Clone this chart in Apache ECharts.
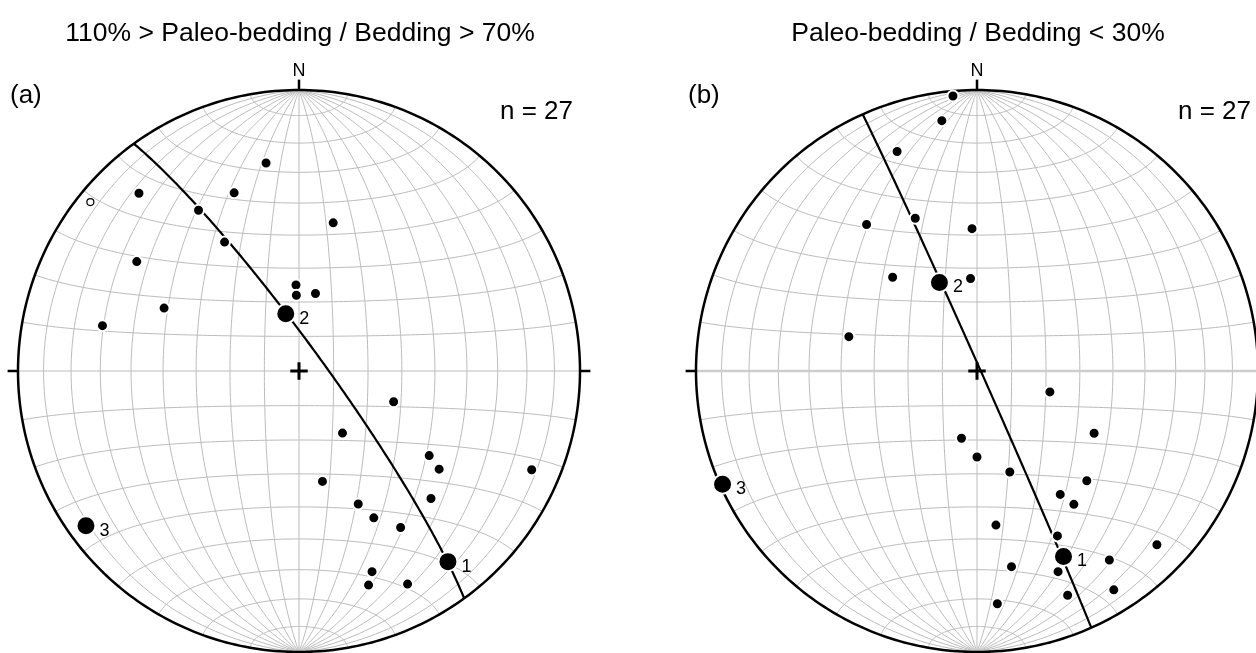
<!DOCTYPE html>
<html>
<head>
<meta charset="utf-8">
<script src="https://cdn.jsdelivr.net/npm/echarts@6/dist/echarts.min.js"></script>
<style>
  html, body { margin: 0; padding: 0; background: #fff; }
  #chart { width: 1256px; height: 653px; }
</style>
</head>
<body>
<div id="chart"></div>
<script>
// Net (a): 110% > Paleo-bedding / Bedding > 70%
// Poles as [trend, plunge] in degrees, lower hemisphere
const polesA = [
  [351, 26], [340, 33], [318, 16], [328, 33], [330, 46], [304, 31], [295, 46], [283, 29],
  [13, 45], [358, 65], [358, 68], [12, 67],
  [108, 61], [145, 68], [123, 44], [125, 39], [113, 11], [168, 57], [134, 35],
  [156, 47], [153, 41], [147, 34], [160, 25], [162, 21], [153, 16]
];
const openPolesA = [[309, 5]];
// Eigenvectors 1, 2, 3 as [trend, plunge]
const eigenA = [[142, 15], [347, 73], [234, 7]];

// Net (b): Paleo-bedding / Bedding < 30%
const polesB = [
  [355, 2], [352, 11], [340, 18], [338, 41], [323, 35], [358, 48], [318, 53], [356, 63], [285, 51],
  [106, 68], [118, 51], [193, 70], [180, 65], [162, 59], [135, 44], [146, 46], [144, 41],
  [173, 44], [154, 35], [134, 12], [145, 19], [170, 30], [158, 24], [148, 9], [158, 15], [175, 18]
];
const openPolesB = [];
const eigenB = [[155, 28], [337, 62], [246, 1]];

const eigenNames = ['1', '2', '3'];
const titles = ['110% > Paleo-bedding / Bedding > 70%', 'Paleo-bedding / Bedding < 30%'];
const panelLetters = ['(a)', '(b)'];
const countLabels = ['n = 27', 'n = 27'];

// ---- layout ----
const R = 281;                 // primitive radius, px
const EXT = 1.06;              // axis extent beyond the primitive
const centers = [[299, 371], [977, 371]];
const FONT = '"Liberation Sans", Arial, Helvetica, sans-serif';
const GRID_GREY = '#bcbcbc';

const D2R = Math.PI / 180;

// Lambert equal-area (Schmidt) projection of a unit vector (north, east, down)
function projVec(n, e, d) {
  if (d < 0) { n = -n; e = -e; d = -d; }
  const k = 1 / Math.sqrt(1 + d);
  return [e * k, n * k];
}
function projLine(trend, plunge) {
  const t = trend * D2R, p = plunge * D2R;
  return projVec(Math.cos(p) * Math.cos(t), Math.cos(p) * Math.sin(t), Math.sin(p));
}

// 10-degree Schmidt net: meridians and small circles about the N-S axis
function netCurves() {
  const curves = [];
  for (let dip = 10; dip <= 80; dip += 10) {
    for (const side of [1, -1]) {
      const pts = [];
      const cd = Math.cos(dip * D2R), sd = Math.sin(dip * D2R);
      for (let a = 0; a <= 180; a += 1.5) {
        const ca = Math.cos(a * D2R), sa = Math.sin(a * D2R);
        pts.push(projVec(ca, side * sa * cd, sa * sd));
      }
      curves.push({ coords: pts });
    }
  }
  curves.push({ coords: [[0, -1], [0, 1]] });
  for (let al = 10; al <= 170; al += 10) {
    if (al === 90) continue;
    const pts = [];
    const c = Math.cos(al * D2R), s = Math.sin(al * D2R);
    for (let f = 0; f <= 180; f += 1.5) {
      pts.push(projVec(c, s * Math.cos(f * D2R), s * Math.sin(f * D2R)));
    }
    curves.push({ coords: pts });
  }
  return curves;
}

function primitive() {
  const pts = [];
  for (let a = 0; a <= 360; a += 1) pts.push([Math.sin(a * D2R), Math.cos(a * D2R)]);
  return pts;
}

// Great circle of the plane whose pole is the given line (girdle normal to eigenvector 3)
function planeFromPole(trend, plunge) {
  const dd = (trend + 180) * D2R, dip = (90 - plunge) * D2R;
  const s = [Math.cos(dd - Math.PI / 2), Math.sin(dd - Math.PI / 2), 0];
  const v = [Math.cos(dip) * Math.cos(dd), Math.cos(dip) * Math.sin(dd), Math.sin(dip)];
  const pts = [];
  for (let a = 0; a <= 180; a += 1) {
    const ca = Math.cos(a * D2R), sa = Math.sin(a * D2R);
    pts.push(projVec(ca * s[0] + sa * v[0], ca * s[1] + sa * v[1], ca * s[2] + sa * v[2]));
  }
  return pts;
}

const TK = 0.037, CR = 0.031;
const ticks = [
  { coords: [[0, 1], [0, 1 + TK]] }, { coords: [[0, -1], [0, -1 - TK]] },
  { coords: [[1, 0], [1 + TK, 0]] }, { coords: [[-1, 0], [-1 - TK, 0]] }
];
const cross = [{ coords: [[-CR, 0], [CR, 0]] }, { coords: [[0, -CR], [0, CR]] }];

const grids = [], xAxes = [], yAxes = [], series = [], graphics = [];

const nets = [
  { poles: polesA, open: openPolesA, eigen: eigenA },
  { poles: polesB, open: openPolesB, eigen: eigenB }
];

nets.forEach((net, i) => {
  const [cx, cy] = centers[i];
  grids.push({
    left: cx - R * EXT, top: cy - R * EXT, width: 2 * R * EXT, height: 2 * R * EXT,
    containLabel: false, outerBoundsMode: 'none'
  });
  xAxes.push({ gridIndex: i, type: 'value', min: -EXT, max: EXT, show: false });
  yAxes.push({ gridIndex: i, type: 'value', min: -EXT, max: EXT, show: false });
  const ax = { xAxisIndex: i, yAxisIndex: i, coordinateSystem: 'cartesian2d', silent: true };

  series.push(Object.assign({
    type: 'lines', polyline: true, z: 1, data: netCurves(),
    lineStyle: { color: GRID_GREY, width: 1, opacity: 1 }
  }, ax));
  series.push(Object.assign({
    type: 'lines', polyline: true, z: 1, data: [{ coords: [[-1, 0], [1, 0]] }],
    lineStyle: i === 1 ? { color: '#cdcdcd', width: 2.5, opacity: 1 } : { color: GRID_GREY, width: 1, opacity: 1 }
  }, ax));
  series.push(Object.assign({
    type: 'lines', polyline: true, z: 2, data: [{ coords: primitive() }].concat(ticks),
    lineStyle: { color: '#000', width: 2.5, opacity: 1 }
  }, ax));
  series.push(Object.assign({
    type: 'lines', polyline: true, z: 2, data: cross,
    lineStyle: { color: '#000', width: 3, opacity: 1 }
  }, ax));
  const e3 = net.eigen[2];
  series.push(Object.assign({
    type: 'lines', polyline: true, z: 3, data: [{ coords: planeFromPole(e3[0], e3[1]) }],
    lineStyle: { color: '#000', width: 2.2, opacity: 1 }
  }, ax));

  series.push({
    type: 'scatter', xAxisIndex: i, yAxisIndex: i, z: 4, silent: true, clip: false,
    symbol: 'circle', symbolSize: 11,
    itemStyle: { color: '#000', borderColor: '#fff', borderWidth: 2, opacity: 1 },
    data: net.poles.map(p => projLine(p[0], p[1]))
  });
  series.push({
    type: 'scatter', xAxisIndex: i, yAxisIndex: i, z: 4, silent: true, clip: false,
    symbol: 'circle', symbolSize: 7,
    itemStyle: { color: '#fff', borderColor: '#000', borderWidth: 1.2, opacity: 1 },
    data: net.open.map(p => projLine(p[0], p[1]))
  });
  series.push({
    type: 'scatter', xAxisIndex: i, yAxisIndex: i, z: 5, silent: true, clip: false,
    symbol: 'circle', symbolSize: 19,
    itemStyle: { color: '#000', borderColor: '#fff', borderWidth: 2, opacity: 1 },
    label: {
      show: true, formatter: '{b}', position: 'right', distance: 3, offset: [0, 5],
      fontSize: 18, fontFamily: FONT, color: '#000'
    },
    data: net.eigen.map((p, k) => ({ name: eigenNames[k], value: projLine(p[0], p[1]) }))
  });

  const txt = (x, y, text, size, align) => ({
    type: 'text', x: x, y: y, silent: true, z: 10,
    style: {
      text: text, fill: '#000', fontSize: size, fontFamily: FONT,
      textAlign: align, align: align, textVerticalAlign: 'middle', verticalAlign: 'middle'
    }
  });
  graphics.push(txt(cx + 1, 34, titles[i], 26.5, 'center'));
  graphics.push(txt(cx, 71, 'N', 18, 'center'));
  graphics.push(txt(cx - 289, 96, panelLetters[i], 26, 'left'));
  graphics.push(txt(cx + 201, 112, countLabels[i], 26, 'left'));
});

const chart = echarts.init(document.getElementById('chart'), null, { renderer: 'canvas' });
chart.setOption({
  animation: false,
  backgroundColor: '#fff',
  grid: grids,
  xAxis: xAxes,
  yAxis: yAxes,
  graphic: graphics,
  series: series
});
</script>
</body>
</html>
